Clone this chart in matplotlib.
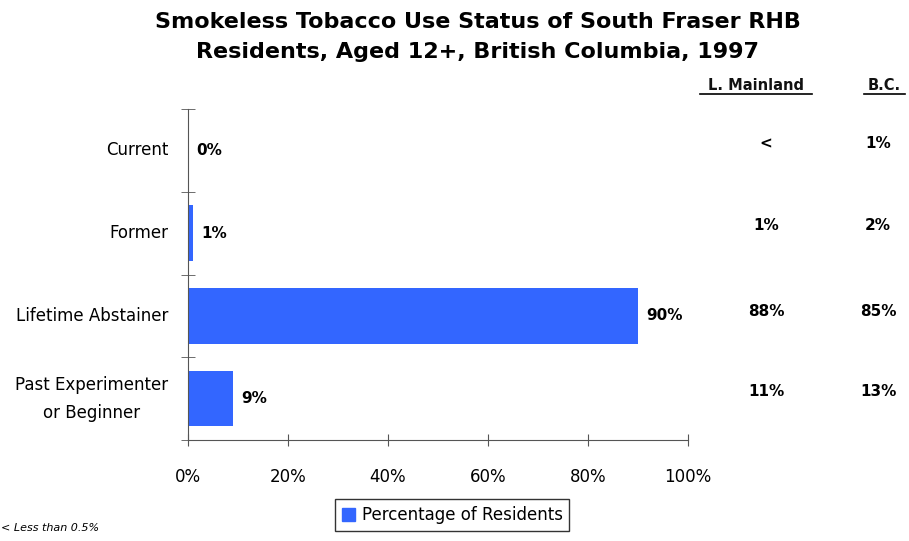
import matplotlib.pyplot as plt
from matplotlib.patches import Patch

plt.rcParams['font.family'] = ['DejaVu Sans']

categories = ["Current", "Former", "Lifetime Abstainer", "Past Experimenter\nor Beginner"]
values = [0, 1, 90, 9]
value_labels = ["0%", "1%", "90%", "9%"]
mainland = ["<", "1%", "88%", "11%"]
bc = ["1%", "2%", "85%", "13%"]
x_ticks = [0, 20, 40, 60, 80, 100]

bar_color = "#3366FF"

fig = plt.figure(figsize=(9.09, 5.41), dpi=100)
ax = fig.add_axes([0.2068, 0.1867, 0.5500, 0.6118])

ypos = list(range(len(categories)))
ax.barh(ypos, values, height=0.67, color=bar_color)
ax.set_ylim(len(categories) - 0.5, -0.5)
ax.set_xlim(0, 100)

for y, v, lab in zip(ypos, values, value_labels):
    ax.text(v + 1.7, y, lab, va="center", ha="left", fontsize=11, fontweight="bold")

ax.set_yticks(ypos)
ax.set_yticklabels(categories, fontsize=12, multialignment="center", linespacing=1.7, va="center")
ax.tick_params(axis="y", length=0, pad=14)
ax.set_yticks([y - 0.5 for y in ypos] + [len(categories) - 0.5], minor=True)
ax.tick_params(axis="y", which="minor", length=10, direction="inout", color="#555555")

ax.set_xticks(x_ticks)
ax.set_xticklabels([f"{t}%" for t in x_ticks], fontsize=12)
ax.tick_params(axis="x", length=8, direction="inout", color="#555555", pad=16)

for s in ["top", "right"]:
    ax.spines[s].set_visible(False)
ax.spines["left"].set_color("#555555")
ax.spines["bottom"].set_color("#555555")

fig.text(478 / 909, 1 - 12 / 541, "Smokeless Tobacco Use Status of South Fraser RHB\nResidents, Aged 12+, British Columbia, 1997",
         ha="center", va="top", fontsize=16, fontweight="bold", linespacing=1.6)

# side columns
fig.text(756 / 909, 1 - 85 / 541, "L. Mainland", ha="center", va="center", fontsize=10.5,
         fontweight="bold", color="#111111")
fig.text(884 / 909, 1 - 85 / 541, "B.C.", ha="center", va="center", fontsize=10.5,
         fontweight="bold", color="#111111")
fig.add_artist(plt.Line2D([700 / 909, 812 / 909], [1 - 94 / 541] * 2, color="black", lw=1.2))
fig.add_artist(plt.Line2D([864 / 909, 905 / 909], [1 - 94 / 541] * 2, color="black", lw=1.2))

row_y = [144, 226, 312, 391]
for ry, a, b in zip(row_y, mainland, bc):
    fig.text(766 / 909, 1 - ry / 541, a, ha="center", va="center", fontsize=11, fontweight="bold")
    fig.text(878 / 909, 1 - ry / 541, b, ha="center", va="center", fontsize=11, fontweight="bold")

fig.legend(handles=[Patch(color=bar_color, label="Percentage of Residents")],
           loc="center", bbox_to_anchor=(452 / 909, 1 - 515 / 541), fontsize=12,
           frameon=True, fancybox=False, edgecolor="black", handlelength=0.8,
           handleheight=0.8, handletextpad=0.4, borderpad=0.4)

fig.text(0.001, 1 - 528 / 541, "< Less than 0.5%", ha="left", va="center", fontsize=8, style="italic")

plt.savefig("out.png", dpi=100)
